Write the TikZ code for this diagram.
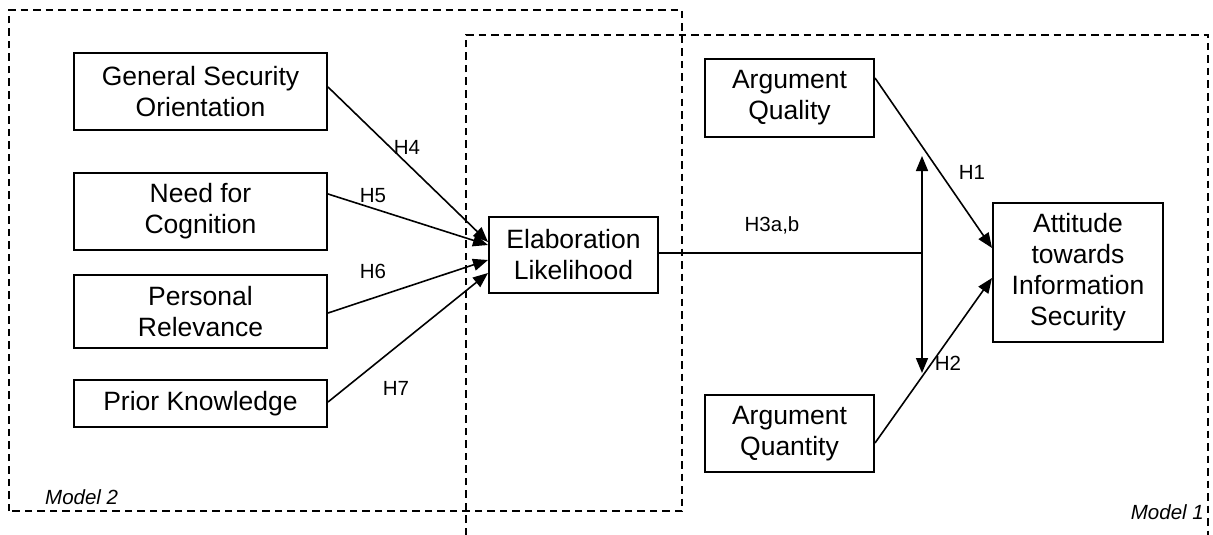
\documentclass[tikz,border=0pt]{standalone}
\usepackage{fontspec}
\setmainfont{Liberation Sans}
\usetikzlibrary{arrows.meta}
\begin{document}
\begin{tikzpicture}[x=1pt,y=-1pt,
  construct/.style={draw, line width=2pt, align=center, inner sep=0pt,
    font=\fontsize{26.5}{31}\selectfont},
  path/.style={line width=1.6pt, -{Triangle[length=15pt,width=12pt]}},
  link/.style={line width=1.6pt},
  hyp/.style={font=\fontsize{20.5}{24}\selectfont, inner sep=0pt},
  frame/.style={line width=1.8pt, dash pattern=on 7.5pt off 5pt},
  modelname/.style={font=\fontsize{20.5}{24}\selectfont\itshape, inner sep=0pt}]
\useasboundingbox (0,0) rectangle (1213,535);

% model boundaries
\draw[frame] (9,511) -- (9,10) -- (682,10) -- (682,511) -- cycle;
\draw[frame] (466,535) -- (466,35) -- (1208,35) -- (1208,535);
\node[modelname, anchor=west] (m2) at (45,497) {Model 2};
\node[modelname, anchor=east] (m1) at (1204,512) {Model 1};

% antecedents of elaboration likelihood
\node[construct, minimum width=253pt, minimum height=77pt] (gso) at (200.5,91.5) {General Security\\Orientation};
\node[construct, minimum width=253pt, minimum height=77pt] (nfc) at (200.5,211.5) {Need for\\Cognition};
\node[construct, minimum width=253pt, minimum height=73pt] (pr) at (200.5,311.5) {Personal\\Relevance};
\node[construct, minimum width=253pt, minimum height=47pt] (pk) at (200.5,403.5) {Prior Knowledge};

\node[construct, minimum width=169pt, minimum height=76pt] (el) at (573.5,254.5) {Elaboration\\Likelihood};

% model 1 constructs
\node[construct, minimum width=169pt, minimum height=78pt] (aq) at (789.5,98) {Argument\\Quality};
\node[construct, minimum width=169pt, minimum height=77pt] (aqn) at (789.5,433.5) {Argument\\Quantity};
\node[construct, minimum width=170pt, minimum height=139pt] (att) at (1078,272.5) {Attitude\\towards\\Information\\Security};

% paths into elaboration likelihood
\draw[path] ([yshift=4.5pt]gso.east) -- ([yshift=12.5pt]el.west);
\draw[path] ([yshift=17.5pt]nfc.east) -- ([yshift=9.5pt]el.west);
\draw[path] ([yshift=-1.5pt]pr.east) -- ([yshift=-5.5pt]el.west);
\draw[path] ([yshift=1.5pt]pk.east) -- ([yshift=-18.5pt]el.west);

% paths into attitude
\draw[path] ([yshift=20pt]aq.east) -- ([yshift=24.5pt]att.west);
\draw[path] ([yshift=-9.5pt]aqn.east) -- ([yshift=-5.5pt]att.west);

% moderation by elaboration likelihood
\coordinate (jn) at (922,253);
\coordinate (mtop) at (922,156);
\coordinate (mbot) at (922,373);
\draw[link] ([yshift=1.5pt]el.east) -- (jn);
\draw[link, {Triangle[length=15pt,width=12pt]}-{Triangle[length=15pt,width=12pt]}] (mtop) -- (mbot);

% hypothesis labels
\node[hyp] (h4) at (407,147) {H4};
\node[hyp] (h5) at (373,196) {H5};
\node[hyp] (h6) at (373,271) {H6};
\node[hyp] (h7) at (396,388) {H7};
\node[hyp] (h3) at (772,225) {H3a,b};
\node[hyp] (h1) at (972,172) {H1};
\node[hyp] (h2) at (948,363) {H2};
\end{tikzpicture}
\end{document}
